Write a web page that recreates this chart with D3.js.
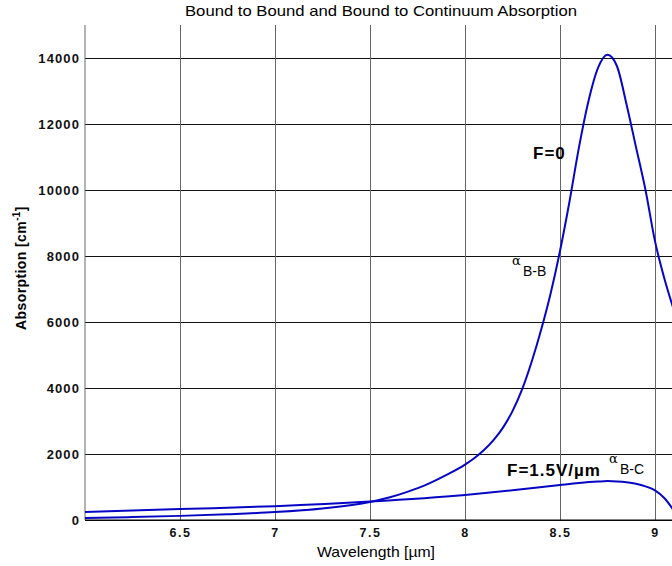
<!DOCTYPE html>
<html>
<head>
<meta charset="utf-8">
<script src="https://cdn.jsdelivr.net/npm/d3@7"></script>
<style>
  body { margin: 0; background: #fff; }
  svg { display: block; font-family: "Liberation Sans", Arial, sans-serif; }
</style>
</head>
<body>
<div id="chart"></div>
<script>
// absorption data
var wavelengthBB = [6.0, 6.25, 6.5, 6.75, 7.0, 7.25, 7.5, 7.6, 7.7, 7.8, 7.9, 8.0, 8.05, 8.1, 8.15, 8.2, 8.25, 8.3, 8.35, 8.4, 8.45, 8.5, 8.55, 8.6, 8.65, 8.7, 8.75, 8.8, 8.85, 8.9, 8.95, 9.0, 9.05, 9.1];
var absorptionBB = [60, 90, 125, 175, 240, 350, 545, 680, 860, 1080, 1360, 1680, 1880, 2120, 2420, 2800, 3300, 3950, 4780, 5750, 6850, 8150, 9650, 11300, 12700, 13700, 14100, 13750, 12600, 11300, 10000, 8450, 7300, 6350];

var wavelengthBC = [6.0, 6.5, 7.0, 7.5, 8.0, 8.25, 8.5, 8.6, 8.7, 8.75, 8.8, 8.85, 8.9, 8.95, 9.0, 9.05, 9.1];
var absorptionBC = [240, 330, 420, 560, 760, 900, 1060, 1120, 1165, 1180, 1170, 1145, 1100, 1020, 900, 660, 280];

var xTicks = [6.5, 7, 7.5, 8, 8.5, 9];
var yTicks = [0, 2000, 4000, 6000, 8000, 10000, 12000, 14000];

var width = 672, height = 566;
var plotLeft = 85, plotTop = 25, plotBottom = 520, plotRight = 674;

var x = d3.scaleLinear().domain([6, 9.1]).range([plotLeft, plotRight]);
var y = d3.scaleLinear().domain([0, 15000]).range([plotBottom, plotTop]);

var svg = d3.select('#chart')
  .append('svg')
  .attr('width', width)
  .attr('height', height);

svg.append('rect').attr('width', width).attr('height', height).attr('fill', '#fff');

svg.append('clipPath').attr('id', 'plot')
  .append('rect').attr('x', plotLeft).attr('y', 0).attr('width', plotRight - plotLeft).attr('height', plotBottom);

// horizontal grid + y labels
var yAxis = svg.append('g')
  .attr('transform', 'translate(' + plotLeft + ',0)')
  .call(d3.axisLeft(y).tickValues(yTicks).tickSize(-(plotRight - plotLeft)).tickPadding(5).tickFormat(d3.format('d')));
yAxis.select('.domain').remove();
yAxis.selectAll('.tick line').attr('stroke', '#111').attr('stroke-width', 1);
yAxis.selectAll('.tick text')
  .attr('font-size', 13).attr('font-weight', 'bold').attr('fill', '#111')
  .attr('letter-spacing', 1.1).attr('font-family', '"Liberation Sans", Arial, sans-serif');

// vertical grid + x labels
var xAxis = svg.append('g')
  .attr('transform', 'translate(0,' + plotBottom + ')')
  .call(d3.axisBottom(x).tickValues(xTicks).tickSize(-(plotBottom - plotTop)).tickFormat(d3.format('')));
xAxis.select('.domain').remove();
xAxis.selectAll('.tick line').attr('stroke', '#666').attr('stroke-width', 1);
xAxis.selectAll('.tick text')
  .attr('y', 17).attr('dy', 0)
  .attr('font-size', 12.5).attr('font-weight', 'bold').attr('fill', '#111')
  .attr('letter-spacing', 1.5).attr('font-family', '"Liberation Sans", Arial, sans-serif');

// axis lines
svg.append('line').attr('x1', plotLeft).attr('x2', plotLeft).attr('y1', plotTop).attr('y2', plotBottom)
  .attr('stroke', '#666').attr('stroke-width', 1);
svg.append('line').attr('x1', plotLeft).attr('x2', width).attr('y1', plotBottom).attr('y2', plotBottom)
  .attr('stroke', '#000').attr('stroke-width', 1);

// curves
var line = d3.line()
  .x(function(d) { return x(d[0]); })
  .y(function(d) { return y(d[1]); })
  .curve(d3.curveMonotoneX);

var curves = svg.append('g').attr('clip-path', 'url(#plot)');
curves.append('path')
  .datum(d3.zip(wavelengthBB, absorptionBB))
  .attr('d', line)
  .attr('fill', 'none').attr('stroke', '#0606c4').attr('stroke-width', 2);
curves.append('path')
  .datum(d3.zip(wavelengthBC, absorptionBC))
  .attr('d', line)
  .attr('fill', 'none').attr('stroke', '#0606c4').attr('stroke-width', 2);

// title and axis labels
svg.append('text')
  .attr('x', 381).attr('y', 16)
  .attr('text-anchor', 'middle')
  .attr('font-size', 15)
  .attr('textLength', 392).attr('lengthAdjust', 'spacingAndGlyphs')
  .text('Bound to Bound and Bound to Continuum Absorption');

svg.append('text')
  .attr('x', 376).attr('y', 557)
  .attr('text-anchor', 'middle')
  .attr('font-size', 14.5)
  .attr('textLength', 118).attr('lengthAdjust', 'spacingAndGlyphs')
  .text('Wavelength [\u00b5m]');

var ylab = svg.append('text')
  .attr('transform', 'translate(26,268) rotate(-90)')
  .attr('text-anchor', 'middle')
  .attr('font-size', 14).attr('font-weight', 'bold')
  .attr('letter-spacing', 0.4);
ylab.append('tspan').text('Absorption [cm');
ylab.append('tspan').attr('font-size', 10).attr('dy', -6).text('-1');
ylab.append('tspan').attr('dy', 6).text(']');

// annotations
svg.append('text')
  .attr('x', 533).attr('y', 159)
  .attr('font-size', 17).attr('font-weight', 'bold').attr('letter-spacing', 1)
  .text('F=0');

svg.append('text')
  .attr('x', 507).attr('y', 476)
  .attr('font-size', 17).attr('font-weight', 'bold').attr('letter-spacing', 1)
  .text('F=1.5V/\u00b5m');

function alphaLabel(ax, ay, sub) {
  svg.append('text').attr('x', ax).attr('y', ay)
    .attr('font-size', 13).attr('font-family', '"DejaVu Serif", serif')
    .text('\u03b1');
  svg.append('text').attr('x', ax + 11).attr('y', ay + 11)
    .attr('font-size', 14)
    .text(sub);
}
alphaLabel(512, 265, 'B-B');
alphaLabel(609, 463, 'B-C');
</script>
</body>
</html>
